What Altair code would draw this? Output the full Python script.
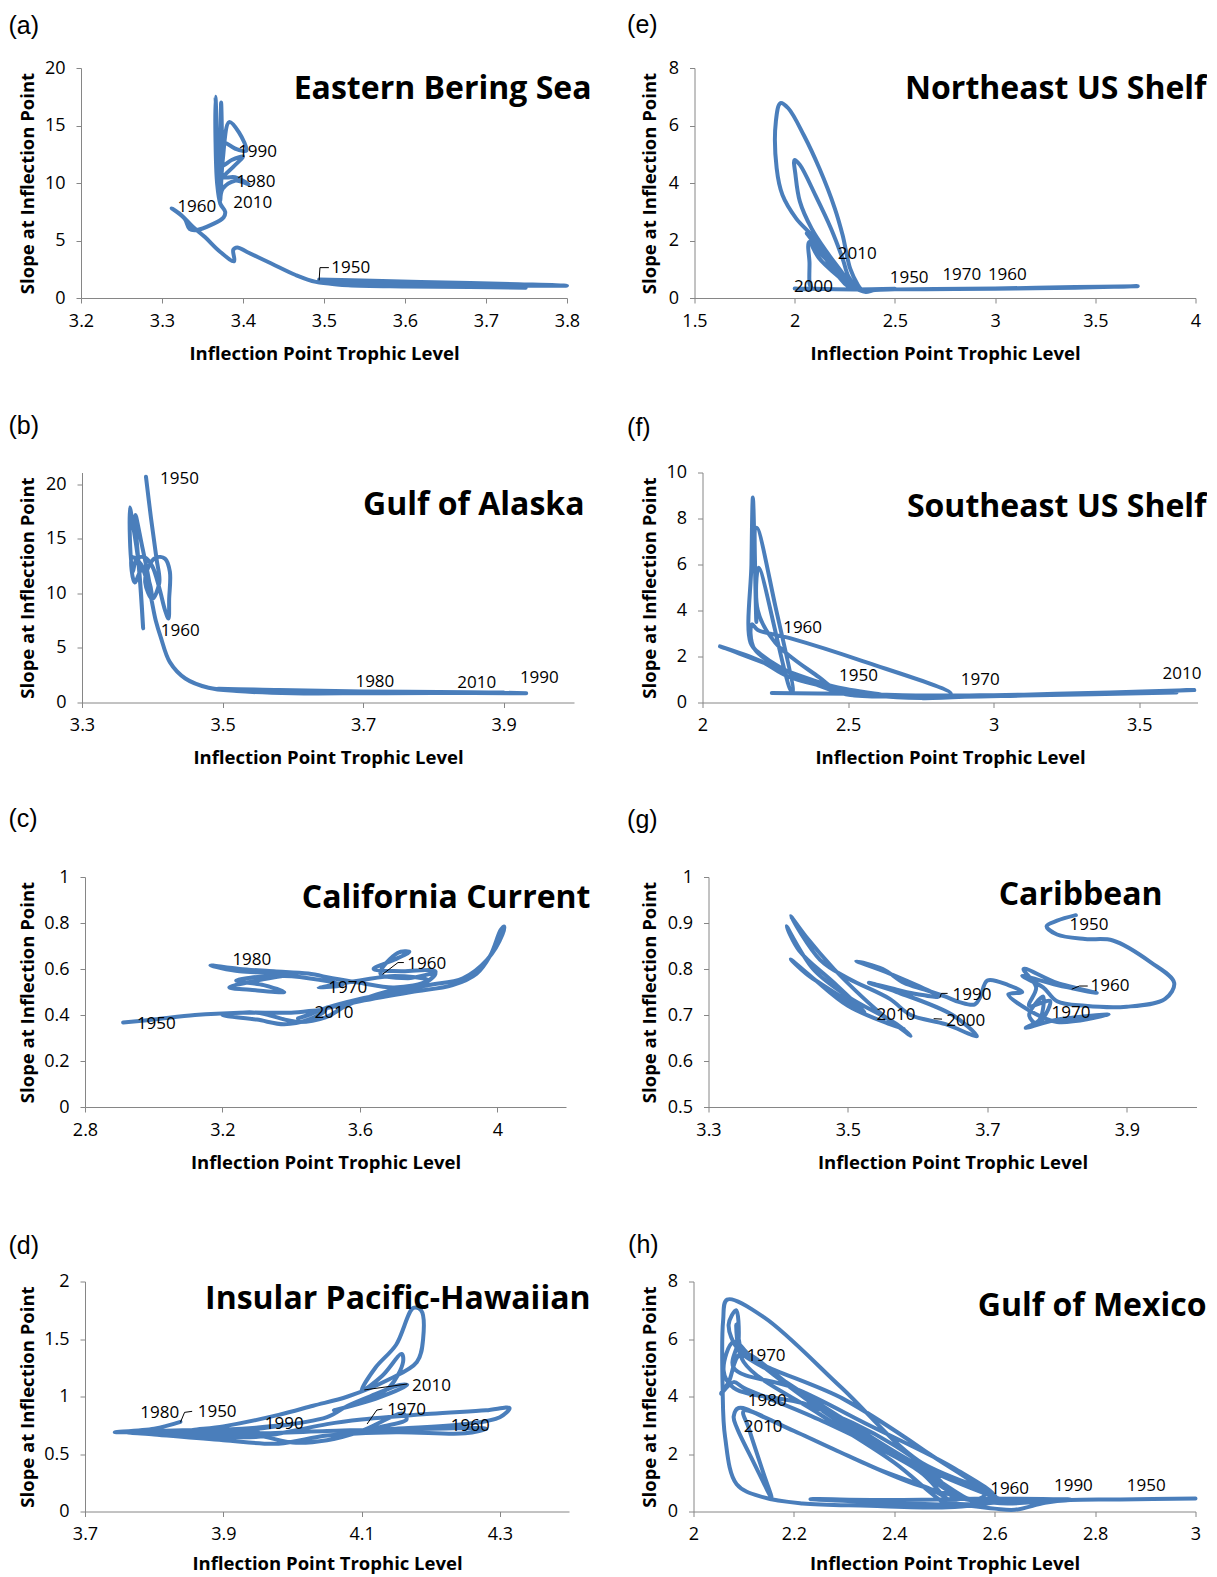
import altair as alt
import pandas as pd

BLUE = "#4a7ebb"

# ---------------- (a) Eastern Bering Sea ----------------
a_tl = [3.494, 3.56, 3.65, 3.74, 3.80, 3.72, 3.62, 3.54, 3.50, 3.53, 3.60, 3.68, 3.749, 3.70, 3.60,
        3.52, 3.49, 3.465, 3.435, 3.405, 3.393, 3.388, 3.389, 3.372, 3.353, 3.338, 3.324, 3.312,
        3.328, 3.334, 3.342, 3.362, 3.376, 3.378, 3.372, 3.368, 3.366, 3.366, 3.368, 3.370, 3.372,
        3.373, 3.374, 3.372, 3.375, 3.383, 3.395, 3.404, 3.39, 3.376, 3.374, 3.386, 3.40, 3.388,
        3.376, 3.39, 3.407, 3.39, 3.375, 3.372]
a_slope = [1.6, 1.5, 1.35, 1.2, 1.08, 1.1, 1.15, 1.25, 1.3, 1.1, 1.0, 0.95, 0.9, 0.95, 1.05,
           1.2, 1.4, 2.0, 3.0, 4.0, 4.4, 4.2, 3.2, 4.0, 5.3, 6.2, 7.2, 7.8,
           6.9, 6.0, 5.9, 6.4, 7.0, 7.5, 8.2, 10, 14, 17.5, 14, 9, 12,
           17.0, 13, 8.5, 12, 15.3, 14.4, 12.8, 13.0, 13.5, 11.5, 12.0, 12.3, 11.4,
           10.5, 10.5, 9.9, 10.2, 9.5, 8.5]
a_years = ["1990", "1980", "2010", "1960", "1950"]
a_year_tl = [3.394, 3.392, 3.388, 3.319, 3.509]
a_year_slope = [12.7, 10.1, 8.3, 7.9, 2.6]
a_lead_tl = [3.494, 3.495, 3.506]
a_lead_slope = [1.54, 2.64, 2.64]
a_lead_seg = [0, 0, 0]

# ---------------- (e) Northeast US Shelf ----------------
e_tl = [2.45, 2.8, 3.1, 3.4, 3.712, 3.4, 3.0, 2.7, 2.5, 2.40, 2.355, 2.32, 2.297, 2.239, 2.161,
        2.084, 2.007, 1.939, 1.910, 1.906, 1.929, 1.968, 2.045, 2.123, 2.20, 2.239, 2.277, 2.316,
        2.33, 2.30, 2.268, 2.239, 2.181, 2.103, 2.026, 1.999, 2.004, 2.026, 2.084, 2.16, 2.24,
        2.29, 2.25, 2.09, 2.06, 2.15, 2.26, 2.30, 2.20, 2.10, 2.08, 2.12, 2.25, 2.28, 2.074,
        2.074, 2.074, 2.08, 2.0, 2.1, 2.3, 2.5]
e_slope = [0.30, 0.31, 0.33, 0.36, 0.41, 0.38, 0.33, 0.31, 0.30, 0.28, 0.21, 0.28, 0.38, 0.79, 1.49,
           2.19, 2.77, 3.58, 4.51, 6.14, 6.78, 6.6, 5.67, 4.51, 3.12, 2.19, 1.02, 0.44,
           0.30, 0.45, 0.75, 1.37, 2.42, 3.58, 4.63, 4.80, 4.28, 3.35, 2.42, 1.6, 0.85,
           0.35, 0.5, 2.0, 2.25, 1.45, 0.45, 0.32, 1.05, 1.75, 1.95, 1.4, 0.55, 0.35, 1.95,
           1.2, 0.5, 0.33, 0.33, 0.32, 0.30, 0.32]
e_years = ["2010", "2000", "1950", "1970", "1960"]
e_year_tl = [2.215, 1.997, 2.474, 2.737, 2.964]
e_year_slope = [1.52, 0.38, 0.70, 0.81, 0.79]

# ---------------- (b) Gulf of Alaska ----------------
b_tl = [3.391, 3.398, 3.406, 3.41, 3.40, 3.39, 3.395, 3.405, 3.418, 3.425, 3.424, 3.423, 3.418,
        3.41, 3.40, 3.39, 3.378, 3.372, 3.368, 3.372, 3.38, 3.387, 3.384, 3.376, 3.385, 3.393,
        3.40, 3.396, 3.38, 3.371, 3.375, 3.385, 3.395, 3.405, 3.412, 3.425, 3.447, 3.48, 3.52,
        3.60, 3.70, 3.80, 3.932, 3.85, 3.70, 3.58, 3.49, 3.55, 3.65, 3.75, 3.85, 3.90]
b_slope = [20.7, 17.0, 13.2, 11.0, 9.5, 11.0, 12.5, 13.3, 13.2, 12.0, 9.5, 7.7, 8.5,
           10.5, 12.5, 13.3, 13.2, 12.0, 17.9, 16.5, 13.0, 6.8, 10.0, 17.2, 14.5, 12.0,
           9.5, 11.0, 13.0, 13.3, 11.0, 12.2, 10.5, 7.5, 6.0, 3.7, 2.2, 1.35, 1.05,
           0.85, 0.85, 0.88, 0.85, 0.95, 1.0, 1.15, 1.25, 1.05, 0.9, 0.85, 0.9, 0.92]
b_years = ["1950", "1960", "1980", "2010", "1990"]
b_year_tl = [3.411, 3.412, 3.689, 3.834, 3.923]
b_year_slope = [20.5, 6.55, 1.92, 1.77, 2.29]

# ---------------- (f) Southeast US Shelf ----------------
f_tl = [2.238, 2.5, 2.8, 3.0, 3.3, 3.689, 3.4, 3.0, 2.757, 2.6, 2.3, 2.2, 2.06, 2.08, 2.25, 2.45,
        2.62, 2.5, 2.3, 2.18, 2.165, 2.17, 2.19, 2.30, 2.55, 2.853, 2.75, 2.5, 2.35, 2.20, 2.165,
        2.168, 2.173, 2.18, 2.185, 2.186, 2.25, 2.31, 2.30, 2.193, 2.19, 2.25, 2.40, 2.48, 2.6,
        2.9, 3.1, 3.628]
f_slope = [0.41, 0.38, 0.30, 0.32, 0.38, 0.54, 0.44, 0.30, 0.19, 0.30, 1.1, 1.8, 2.44, 2.35, 1.55, 0.7,
           0.33, 0.5, 1.3, 2.3, 3.0, 3.4, 3.15, 2.8, 1.8, 0.38, 0.30, 0.35, 1.0, 2.1, 2.6,
           6.0, 8.91, 6.0, 3.5, 7.6, 4.2, 0.45, 0.6, 5.86, 4.0, 2.6, 1.1, 0.40, 0.3,
           0.25, 0.30, 0.44]
f_years = ["1960", "1950", "1970", "2010"]
f_year_tl = [2.277, 2.469, 2.887, 3.58]
f_year_slope = [3.24, 1.16, 0.99, 1.24]

# ---------------- (c) California Current ----------------
c_tl = [2.911, 3.0, 3.12, 3.25, 3.40, 3.50, 3.45, 3.38, 3.30, 3.20, 3.30, 3.42, 3.50, 3.56, 3.63,
        3.70, 3.78, 3.82, 3.74, 3.66, 3.71, 3.744, 3.70, 3.64, 3.72, 3.82, 3.80, 3.70, 3.60, 3.52,
        3.45, 3.35, 3.25, 3.165, 3.25, 3.40, 3.30, 3.22, 3.28, 3.38, 3.32, 3.24, 3.35, 3.45, 3.55,
        3.48, 3.60, 3.70, 3.80, 3.70, 3.58, 3.50, 3.60, 3.75, 3.87, 3.94, 3.98, 4.01, 4.02, 4.015,
        3.97, 3.90, 3.80, 3.70, 3.60, 3.50, 3.45, 3.42]
c_slope = [0.367, 0.38, 0.40, 0.41, 0.41, 0.42, 0.38, 0.36, 0.38, 0.40, 0.41, 0.37, 0.39, 0.44, 0.48,
           0.51, 0.53, 0.58, 0.56, 0.58, 0.67, 0.675, 0.64, 0.60, 0.59, 0.59, 0.55, 0.52, 0.54, 0.56,
           0.58, 0.59, 0.60, 0.616, 0.59, 0.58, 0.55, 0.52, 0.51, 0.50, 0.53, 0.55, 0.57, 0.56, 0.53,
           0.52, 0.55, 0.57, 0.55, 0.50, 0.46, 0.43, 0.46, 0.50, 0.53, 0.58, 0.66, 0.77, 0.785, 0.75,
           0.64, 0.56, 0.53, 0.50, 0.47, 0.43, 0.40, 0.385]
c_years = ["1980", "1960", "1970", "2010", "1950"]
c_year_tl = [3.229, 3.738, 3.508, 3.468, 2.951]
c_year_slope = [0.639, 0.620, 0.516, 0.41, 0.359]
c_lead_tl = [3.666, 3.711, 3.728]
c_lead_slope = [0.577, 0.628, 0.628]
c_lead_seg = [0, 0, 0]

# ---------------- (g) Caribbean ----------------
g_tl = [3.827, 3.80, 3.785, 3.80, 3.84, 3.88, 3.935, 3.968, 3.955, 3.90, 3.84, 3.80, 3.78, 3.75, 3.80,
        3.857, 3.80, 3.752, 3.77, 3.76, 3.79, 3.772, 3.76, 3.78, 3.775, 3.755, 3.80, 3.874, 3.80,
        3.76, 3.73, 3.75, 3.73, 3.70, 3.69, 3.682, 3.66, 3.64, 3.61, 3.58, 3.55, 3.512, 3.56, 3.63,
        3.60, 3.57, 3.53, 3.57, 3.65, 3.685, 3.64, 3.59, 3.56, 3.50, 3.46, 3.418, 3.44, 3.48, 3.52,
        3.55, 3.59, 3.57, 3.50, 3.45, 3.412, 3.43, 3.48, 3.524, 3.50, 3.44, 3.418, 3.45, 3.50, 3.56,
        3.58]
g_slope = [0.917, 0.905, 0.893, 0.875, 0.865, 0.862, 0.814, 0.77, 0.735, 0.718, 0.72, 0.73, 0.76, 0.785,
           0.765, 0.748, 0.77, 0.80, 0.76, 0.72, 0.73, 0.68, 0.70, 0.74, 0.69, 0.672, 0.69, 0.701,
           0.685, 0.71, 0.745, 0.75, 0.765, 0.775, 0.74, 0.723, 0.728, 0.74, 0.755, 0.77, 0.80, 0.817,
           0.79, 0.74, 0.745, 0.755, 0.77, 0.75, 0.70, 0.654, 0.68, 0.70, 0.735, 0.78, 0.82, 0.915,
           0.87, 0.80, 0.74, 0.70, 0.655, 0.68, 0.74, 0.80, 0.893, 0.84, 0.77, 0.705, 0.73, 0.79,
           0.821, 0.78, 0.72, 0.68, 0.67]
g_years = ["1950", "1960", "1990", "2010", "2000", "1970"]
g_year_tl = [3.818, 3.848, 3.650, 3.541, 3.641, 3.792]
g_year_slope = [0.895, 0.762, 0.743, 0.701, 0.687, 0.705]
g_lead_tl = [3.821, 3.832, 3.844, 3.632, 3.634, 3.643, 3.623, 3.635]
g_lead_slope = [0.756, 0.763, 0.763, 0.738, 0.747, 0.747, 0.692, 0.691]
g_lead_seg = [0, 0, 0, 1, 1, 1, 2, 2]

# ---------------- (d) Insular Pacific-Hawaiian ----------------
d_tl = [3.838, 3.80, 3.743, 3.80, 3.90, 3.95, 3.90, 3.80, 3.76, 3.85, 3.95, 4.0, 4.05, 4.10, 4.20,
        4.28, 4.314, 4.30, 4.25, 4.15, 4.05, 3.95, 3.90, 3.95, 4.05, 4.08, 4.12, 4.155, 4.166, 4.12,
        4.06, 4.10, 4.14, 4.16, 4.158, 4.13, 4.10, 4.12, 4.15, 4.175, 4.186, 4.189, 4.18, 4.14,
        4.08, 4.03, 3.98, 3.90, 3.85, 3.95, 4.0, 4.05, 4.10, 4.16, 4.165, 4.12, 4.20, 4.28, 4.25,
        4.15, 4.05, 3.98, 3.90, 3.80, 3.76, 3.85, 3.95, 4.0]
d_slope = [0.78, 0.72, 0.69, 0.70, 0.71, 0.70, 0.66, 0.68, 0.69, 0.66, 0.65, 0.70, 0.76, 0.80, 0.85,
           0.88, 0.90, 0.82, 0.76, 0.72, 0.70, 0.68, 0.69, 0.72, 0.82, 0.92, 1.02, 1.10, 1.10, 0.98,
           0.88, 0.95, 1.08, 1.30, 1.37, 1.18, 1.05, 1.25, 1.45, 1.77, 1.75, 1.50, 1.30, 1.15,
           1.00, 0.92, 0.84, 0.74, 0.70, 0.66, 0.60, 0.62, 0.70, 0.85, 0.80, 0.72, 0.72, 0.72, 0.68,
           0.69, 0.66, 0.59, 0.62, 0.67, 0.69, 0.70, 0.73, 0.76]
d_years = ["1980", "1950", "1990", "2010", "1970", "1960"]
d_year_tl = [3.780, 3.863, 3.96, 4.173, 4.137, 4.229]
d_year_slope = [0.853, 0.862, 0.76, 1.094, 0.882, 0.74]
d_lead_tl = [3.838, 3.844, 3.855, 4.104, 4.166, 4.108, 4.122, 4.13]
d_lead_slope = [0.775, 0.862, 0.871, 1.057, 1.109, 0.761, 0.882, 0.891]
d_lead_seg = [0, 0, 0, 1, 1, 2, 2, 2]

# ---------------- (h) Gulf of Mexico ----------------
h_tl = [3.0, 2.85, 2.75, 2.70, 2.64, 2.60, 2.55, 2.40, 2.233, 2.40,
        2.60, 2.75, 2.62, 2.60, 2.45, 2.30, 2.15, 2.09, 2.07, 2.085,
        2.09, 2.08, 2.20, 2.35, 2.52, 2.60, 2.57, 2.45, 2.30, 2.12,
        2.08, 2.06, 2.08, 2.23, 2.40, 2.50, 2.52, 2.50, 2.40, 2.25,
        2.10, 2.085, 2.09, 2.10, 2.30, 2.47, 2.58, 2.55, 2.40, 2.20,
        2.095, 2.07, 2.055, 2.08, 2.10, 2.25, 2.45, 2.52, 2.602, 2.448,
        2.294, 2.14, 2.067, 2.059, 2.058, 2.063, 2.086, 2.14, 2.217, 2.35,
        2.495, 2.55, 2.62, 2.75, 2.70, 2.60, 2.45, 2.30, 2.15, 2.09,
        2.08, 2.086, 2.12, 2.156, 2.14, 2.11, 2.10, 2.20, 2.35, 2.50,
        2.51]
h_slope = [0.45, 0.42, 0.40, 0.30, 0.06, 0.10, 0.20, 0.30, 0.43, 0.40,
           0.45, 0.42, 0.40, 0.50, 1.6, 3.2, 4.9, 5.6, 6.5, 7.0,
           6.0, 5.0, 4.3, 3.0, 1.5, 0.50, 0.30, 1.5, 3.0, 5.3,
           5.9, 4.9, 4.3, 3.7, 2.3, 0.9, 0.20, 0.30, 1.7, 3.4,
           5.2, 6.5, 6.0, 5.5, 3.9, 2.0, 0.60, 0.40, 2.0, 4.3,
           5.5, 4.5, 4.1, 4.5, 4.3, 3.2, 1.4, 0.30, 0.50, 1.77,
           4.32, 6.76, 7.37, 6.64, 4.32, 2.58, 0.95, 0.49, 0.28, 0.20,
           0.14, 0.20, 0.35, 0.40, 0.35, 0.30, 0.90, 2.0, 3.2, 3.6,
           3.3, 2.93, 1.7, 0.46, 1.3, 2.9, 3.5, 2.8, 1.6, 0.50,
           0.15]
h_years = ["1970", "1980", "2010", "1960", "1990", "1950"]
h_year_tl = [2.106, 2.108, 2.10, 2.591, 2.718, 2.863]
h_year_slope = [5.42, 3.86, 2.93, 0.78, 0.87, 0.89]

# ---------------- panel texts and axes ----------------
titles = {"a": "Eastern Bering Sea", "b": "Gulf of Alaska", "c": "California Current",
          "d": "Insular Pacific-Hawaiian", "e": "Northeast US Shelf", "f": "Southeast US Shelf",
          "g": "Caribbean", "h": "Gulf of Mexico"}
x_domains = {"a": [3.2, 3.8], "b": [3.3, 4.0], "c": [2.8, 4.2], "d": [3.7, 4.4],
             "e": [1.5, 4.0], "f": [2.0, 3.7], "g": [3.3, 4.0], "h": [2.0, 3.0]}
x_ticks = {"a": [3.2, 3.3, 3.4, 3.5, 3.6, 3.7, 3.8], "b": [3.3, 3.5, 3.7, 3.9],
           "c": [2.8, 3.2, 3.6, 4.0], "d": [3.7, 3.9, 4.1, 4.3],
           "e": [1.5, 2.0, 2.5, 3.0, 3.5, 4.0], "f": [2.0, 2.5, 3.0, 3.5],
           "g": [3.3, 3.5, 3.7, 3.9], "h": [2.0, 2.2, 2.4, 2.6, 2.8, 3.0]}
y_domains = {"a": [0, 20], "b": [0, 21.1], "c": [0, 1], "d": [0, 2],
             "e": [0, 8], "f": [0, 10], "g": [0.5, 1.0], "h": [0, 8]}
y_ticks = {"a": [0, 5, 10, 15, 20], "b": [0, 5, 10, 15, 20], "c": [0, 0.2, 0.4, 0.6, 0.8, 1.0],
           "d": [0, 0.5, 1.0, 1.5, 2.0], "e": [0, 2, 4, 6, 8], "f": [0, 2, 4, 6, 8, 10],
           "g": [0.5, 0.6, 0.7, 0.8, 0.9, 1.0], "h": [0, 2, 4, 6, 8]}

# layout (pixels, relative to each grid cell origin)
H = 230
LEFT_W, RIGHT_W = 493, 504
layout = {
    "a": dict(dx=0, w=486, lx=-72.5, ly=-42.3, tx=510.5, ty=31.0, ytx=-53.9, xty=55),
    "b": dict(dx=1, w=492, lx=-72.5, ly=-46.9, tx=503.5, ty=42.5, ytx=-53.9, xty=55),
    "c": dict(dx=4, w=481, lx=-72.5, ly=-58.4, tx=509.5, ty=31.0, ytx=-53.9, xty=55),
    "d": dict(dx=4, w=484, lx=-72.5, ly=-35.9, tx=509.5, ty=27.5, ytx=-53.9, xty=52),
    "e": dict(dx=1, w=501, lx=-66.4, ly=-43.3, tx=513.0, ty=31.0, ytx=-44.0, xty=55),
    "f": dict(dx=9, w=495, lx=-66.4, ly=-44.4, tx=513.0, ty=44.5, ytx=-44.0, xty=55),
    "g": dict(dx=15, w=488, lx=-66.4, ly=-56.7, tx=469.0, ty=27.5, ytx=-44.0, xty=55),
    "h": dict(dx=0, w=502, lx=-65.4, ly=-36.9, tx=513.0, ty=34.0, ytx=-44.0, xty=52),
}


def make_panel(key, tl, slope, years, ytl, yslope, lead=None, view_w=LEFT_W):
    L = layout[key]
    dx, w = L["dx"], L["w"]
    xs = alt.Scale(domain=x_domains[key], range=[dx, dx + w], nice=False, zero=False)
    ys = alt.Scale(domain=y_domains[key], nice=False, zero=False)
    xax = alt.Axis(values=x_ticks[key], format="~f", title="Inflection Point Trophic Level",
                   labelPadding=9, titleY=L["xty"], titleBaseline="middle")
    yax = alt.Axis(values=y_ticks[key], format="~f", title="Slope at Inflection Point",
                   labelPadding=11, offset=-dx, titleX=L["ytx"] - dx, titleY=H / 2,
                   titleAngle=-90, titleAlign="center", titleBaseline="middle")
    X = alt.X("tl:Q", scale=xs, axis=xax)
    Y = alt.Y("slope:Q", scale=ys, axis=yax)

    df = pd.DataFrame({"tl": tl, "slope": slope, "i": list(range(len(tl)))})
    line = alt.Chart(df).mark_line(
        interpolate="catmull-rom", strokeWidth=4, color=BLUE,
        strokeJoin="round", strokeCap="round"
    ).encode(x=X, y=Y, order="i:Q")
    layers = [line]

    if lead is not None:
        ldf = pd.DataFrame({"tl": lead[0], "slope": lead[1], "seg": lead[2],
                            "k": list(range(len(lead[0])))})
        layers.append(alt.Chart(ldf).mark_line(color="black", strokeWidth=1).encode(
            x=X, y=Y, detail="seg:N", order="k:Q"))

    ydf = pd.DataFrame({"tl": ytl, "slope": yslope, "year": years})
    layers.append(alt.Chart(ydf).mark_text(
        align="left", baseline="middle", font="Open Sans", fontSize=17, color="black"
    ).encode(x=X, y=Y, text="year:N"))

    tdf = pd.DataFrame({"t": [titles[key]]})
    layers.append(alt.Chart(tdf).mark_text(
        align="right", baseline="alphabetic", font="Open Sans", fontWeight="bold",
        fontSize=32, color="black"
    ).encode(x=alt.value(L["tx"]), y=alt.value(L["ty"]), text="t:N"))

    pdf = pd.DataFrame({"t": ["(" + key + ")"]})
    layers.append(alt.Chart(pdf).mark_text(
        align="left", baseline="middle", font="Liberation Sans", fontSize=25, color="black"
    ).encode(x=alt.value(L["lx"]), y=alt.value(L["ly"]), text="t:N"))

    return alt.layer(*layers).properties(width=view_w, height=H)


pa = make_panel("a", a_tl, a_slope, a_years, a_year_tl, a_year_slope,
                (a_lead_tl, a_lead_slope, a_lead_seg), LEFT_W)
pe = make_panel("e", e_tl, e_slope, e_years, e_year_tl, e_year_slope, None, RIGHT_W)
pb = make_panel("b", b_tl, b_slope, b_years, b_year_tl, b_year_slope, None, LEFT_W)
pf = make_panel("f", f_tl, f_slope, f_years, f_year_tl, f_year_slope, None, RIGHT_W)
pc = make_panel("c", c_tl, c_slope, c_years, c_year_tl, c_year_slope,
                (c_lead_tl, c_lead_slope, c_lead_seg), LEFT_W)
pg = make_panel("g", g_tl, g_slope, g_years, g_year_tl, g_year_slope,
                (g_lead_tl, g_lead_slope, g_lead_seg), RIGHT_W)
pd_ = make_panel("d", d_tl, d_slope, d_years, d_year_tl, d_year_slope,
                 (d_lead_tl, d_lead_slope, d_lead_seg), LEFT_W)
ph = make_panel("h", h_tl, h_slope, h_years, h_year_tl, h_year_slope, None, RIGHT_W)

chart = alt.concat(
    pa, pe, pb, pf, pc, pg, pd_, ph,
    columns=2, spacing={"row": 174.5, "column": 119.5}, bounds="flush", align="each"
).resolve_scale(x="independent", y="independent").properties(
    padding={"left": 0, "top": 4, "right": 0, "bottom": 6}
).configure_view(strokeWidth=0).configure_axis(
    grid=False, labelFont="Open Sans", labelFontSize=18, labelColor="black",
    titleFont="Open Sans", titleFontSize=18.5, titleFontWeight="bold", titleColor="black",
    domainColor="#868686", tickColor="#868686", domainWidth=1, tickWidth=1, tickSize=5,
    labelFlush=False, labelOverlap=False
)

chart.save("out.html", embed_options={"renderer": "svg", "actions": False})
